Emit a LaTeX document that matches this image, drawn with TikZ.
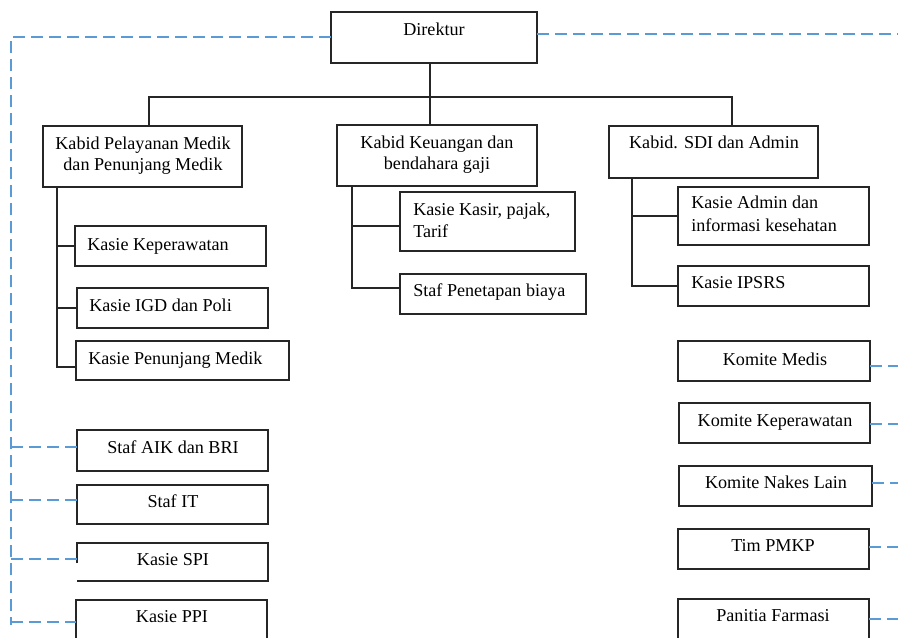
\documentclass[tikz,border=0pt]{standalone}
\usepackage{fontspec}
\setmainfont{Liberation Serif}
\usetikzlibrary{fit}
\definecolor{dashblue}{RGB}{91,155,213}
\begin{document}
\begin{tikzpicture}[x=0.75pt,y=-0.75pt,
  box/.style={draw=black!85, line width=0.9pt, inner sep=0pt, outer sep=0pt},
  nobox/.style={inner sep=0pt, outer sep=0pt},
  txt/.style={inner sep=0pt, font=\fontsize{13.6}{16}\selectfont, text=black},
  tree/.style={draw=black!85, line width=0.9pt},
  dotl/.style={draw=dashblue, line width=0.8pt, dash pattern=on 9pt off 4.5pt}]
\useasboundingbox (0,0) rectangle (898,637);

% boxes
\node[box, fit={(331,12) (537,63)}] (dir) {};
\node[box, fit={(43,126) (242,187)}] (kp) {};
\node[box, fit={(337,125) (537,186)}] (kk) {};
\node[box, fit={(609,126) (818,178)}] (ks) {};
\node[box, fit={(75,226) (266,266)}] (kkep) {};
\node[box, fit={(77,288) (268,328)}] (kigd) {};
\node[box, fit={(76,341) (289,380)}] (kpm) {};
\node[box, fit={(400,192) (575,251)}] (kkas) {};
\node[box, fit={(400,274) (586,314)}] (spb) {};
\node[box, fit={(678,187) (869,245)}] (kadm) {};
\node[box, fit={(678,266) (869,306)}] (kip) {};
\node[box, fit={(678,341) (870,381)}] (km) {};
\node[box, fit={(679,403) (870,443)}] (kkp) {};
\node[box, fit={(679,466) (872,506)}] (knl) {};
\node[box, fit={(678,529) (869,569)}] (pmkp) {};
\node[box, fit={(678,599) (869,650)}] (pf) {};
\node[box, fit={(77,430) (268,471)}] (aik) {};
\node[box, fit={(77,485) (268,524)}] (it) {};
\node[nobox, fit={(77,543) (268,581)}] (spi) {};
\coordinate (spigap) at (77,563);
\draw[tree] (spigap) -- (spi.north west) -- (spi.north east) -- (spi.south east) -- (spi.south west);
\node[box, fit={(76,600) (267,650)}] (ppi) {};

% texts
\node[txt, anchor=base] (t-dir) at (434,35) {Direktur};
\node[txt, anchor=base] (t-kp1) at (143,149) {Kabid Pelayanan Medik};
\node[txt, anchor=base] (t-kp2) at (143,170) {dan Penunjang Medik};
\node[txt, anchor=base] (t-kk1) at (437,148) {Kabid Keuangan dan};
\node[txt, anchor=base] (t-kk2) at (437,169) {bendahara gaji};
\node[txt, anchor=base] (t-ks) at (714,148) {Kabid. SDI dan Admin};
\node[txt, anchor=base west] (t-kkep) at (87,250) {Kasie Keperawatan};
\node[txt, anchor=base west] (t-kigd) at (89,311) {Kasie IGD dan Poli};
\node[txt, anchor=base west] (t-kpm) at (88,364) {Kasie Penunjang Medik};
\node[txt, anchor=base west] (t-kkas1) at (413,215) {Kasie Kasir, pajak,};
\node[txt, anchor=base west] (t-kkas2) at (413,237) {Tarif};
\node[txt, anchor=base west] (t-spb) at (413,296) {Staf Penetapan biaya};
\node[txt, anchor=base west] (t-kadm1) at (691,208) {Kasie Admin dan};
\node[txt, anchor=base west] (t-kadm2) at (691,231) {informasi kesehatan};
\node[txt, anchor=base west] (t-kip) at (691,288) {Kasie IPSRS};
\node[txt, anchor=base] (t-km) at (775,365) {Komite Medis};
\node[txt, anchor=base] (t-kkp) at (775,426) {Komite Keperawatan};
\node[txt, anchor=base] (t-knl) at (776,488) {Komite Nakes Lain};
\node[txt, anchor=base] (t-pmkp) at (773,551) {Tim PMKP};
\node[txt, anchor=base] (t-pf) at (773,621) {Panitia Farmasi};
\node[txt, anchor=base] (t-aik) at (173,453) {Staf AIK dan BRI};
\node[txt, anchor=base] (t-it) at (173,507) {Staf IT};
\node[txt, anchor=base] (t-spi) at (173,565) {Kasie SPI};
\node[txt, anchor=base] (t-ppi) at (172,622) {Kasie PPI};

% solid tree
\coordinate (j0) at (430,97);
\coordinate (b1) at (149,97);
\coordinate (b3) at (732,97);
\draw[tree] (dir.south -| j0) -- (kk.north -| j0);
\draw[tree] (kp.north -| b1) -- (b1) -- (b3) -- (ks.north -| b3);

\coordinate (l1e) at (57,367);
\draw[tree] (kp.south -| l1e) -- (l1e) -- (kpm.west |- l1e);
\draw[tree] (kkep.west -| l1e) -- (kkep.west);
\draw[tree] (kigd.west -| l1e) -- (kigd.west);

\coordinate (m1) at (352,226);
\coordinate (m2) at (352,288);
\draw[tree] (kk.south -| m2) -- (m2) -- (spb.west |- m2);
\draw[tree] (m1) -- (kkas.west |- m1);

\coordinate (r2) at (632,286);
\draw[tree] (ks.south -| r2) -- (r2) -- (kip.west |- r2);
\draw[tree] (kadm.west -| r2) -- (kadm.west);

% dashed left
\coordinate (dt) at (11,37);
\coordinate (dl) at (11,625);
\draw[dotl] (dir.west |- dt) -- (dt) -- (dl);
\coordinate (d1) at (11,447);
\coordinate (d2) at (11,500);
\coordinate (d3) at (11,559);
\coordinate (d4) at (11,622);
\draw[dotl] (d1) -- (aik.west |- d1);
\draw[dotl] (d2) -- (it.west |- d2);
\draw[dotl] (d3) -- (spi.west |- d3);
\draw[dotl] (d4) -- (ppi.west |- d4);

% dashed right
\coordinate (e0) at (898,34);
\coordinate (e1) at (898,366);
\coordinate (e2) at (898,424);
\coordinate (e3) at (898,483);
\coordinate (e4) at (898,547);
\coordinate (e5) at (898,619);
\draw[dotl] (dir.east |- e0) -- (e0);
\draw[dotl] (km.east |- e1) -- (e1);
\draw[dotl] (kkp.east |- e2) -- (e2);
\draw[dotl] (knl.east |- e3) -- (e3);
\draw[dotl] (pmkp.east |- e4) -- (e4);
\draw[dotl] (pf.east |- e5) -- (e5);
\end{tikzpicture}
\end{document}
